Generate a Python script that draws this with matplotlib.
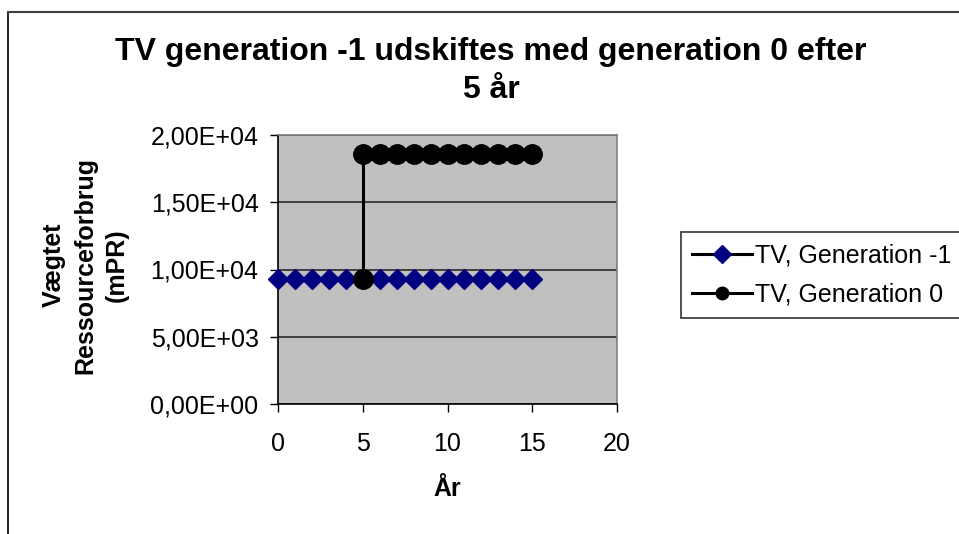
import matplotlib.pyplot as plt
from matplotlib.lines import Line2D
from matplotlib.ticker import FuncFormatter

plt.rcParams['font.family'] = ['Liberation Sans', 'DejaVu Sans']

# years and weighted resource use (mPR)
years_gen_m1 = list(range(0, 16))
values_gen_m1 = [9280] * 16

years_gen_0 = [5] + list(range(5, 16))
values_gen_0 = [9280] + [18560] * 11

labels = ['TV, Generation -1', 'TV, Generation 0']

fig = plt.figure(figsize=(9.59, 5.34), dpi=100)
ax = fig.add_axes([278 / 959, 1 - 404 / 534, 339 / 959, 269 / 534])

ax.set_facecolor('#c0c0c0')
ax.set_xlim(0, 20)
ax.set_ylim(0, 20000)
ax.set_xticks([0, 5, 10, 15, 20])
ax.set_yticks([0, 5000, 10000, 15000, 20000])
ax.yaxis.set_major_formatter(FuncFormatter(lambda v, p: ('%.2E' % v).replace('.', ',')))
ax.grid(axis='y', color='#404040', linewidth=1.4)
ax.set_axisbelow(True)

ax.plot(years_gen_m1, values_gen_m1, color='black', linewidth=2.2, marker='D',
        markersize=10.5, markerfacecolor='#000080', markeredgecolor='#000080',
        label=labels[0], clip_on=False, zorder=3)
ax.plot(years_gen_0, values_gen_0, color='black', linewidth=2.2, marker='o',
        markersize=14, markerfacecolor='black', markeredgecolor='black',
        label=labels[1], clip_on=False, zorder=4)

for side in ['top', 'right']:
    ax.spines[side].set_color('#808080')
    ax.spines[side].set_linewidth(1.2)
for side in ['left', 'bottom']:
    ax.spines[side].set_color('black')
    ax.spines[side].set_linewidth(1.2)

ax.tick_params(axis='both', direction='out', length=6, width=1, labelsize=18, color='black')
ax.tick_params(axis='x', pad=14)
ax.tick_params(axis='y', pad=8)

ax.set_xlabel('År', fontsize=18, fontweight='bold', labelpad=15)

fig.text(85 / 959, 1 - 265 / 534, 'Vægtet\nRessourceforbrug\n(mPR)', rotation=90,
         ha='center', va='center', fontsize=18, fontweight='bold', linespacing=1.4)

fig.text(491 / 959, 1 - 71 / 534, 'TV generation -1 udskiftes med generation 0 efter\n5 år',
         ha='center', va='center', fontsize=23, fontweight='bold', linespacing=1.38)

leg = fig.legend(loc='upper left', bbox_to_anchor=(681 / 959, 1 - 232 / 534),
                 fontsize=18, frameon=True, fancybox=False, edgecolor='black',
                 borderpad=0.45, handlelength=2.4, handletextpad=0.1, labelspacing=0.6,
                 borderaxespad=0)
leg.get_frame().set_linewidth(1.2)
leg.legend_handles[0].set_markersize(9)
leg.legend_handles[1].set_markersize(9)

# chart frame
fig.add_artist(Line2D([8 / 959, 8 / 959], [0, 1 - 12 / 534], color='black', linewidth=1.2))
fig.add_artist(Line2D([8 / 959, 1], [1 - 12 / 534, 1 - 12 / 534], color='#404040', linewidth=1.5))

fig.savefig('out.png', dpi=100)
